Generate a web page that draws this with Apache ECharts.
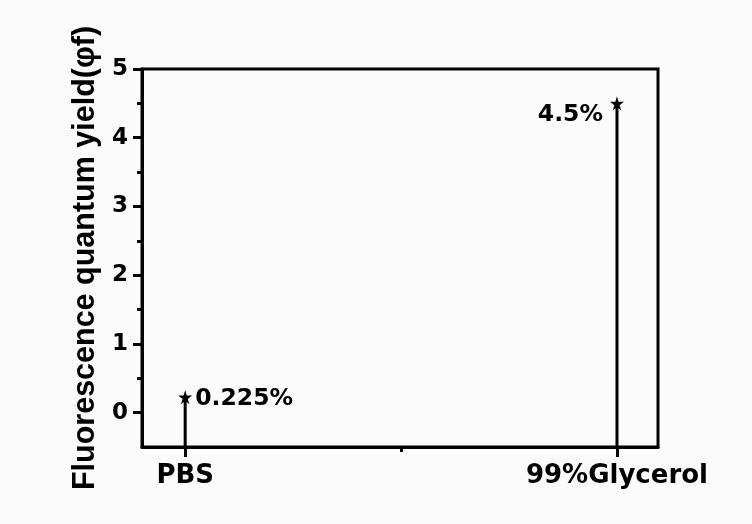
<!DOCTYPE html>
<html>
<head>
<meta charset="utf-8">
<script src="https://cdn.jsdelivr.net/npm/echarts@6/dist/echarts.min.js"></script>
<style>
  html, body { margin: 0; padding: 0; background: #fbfbfb; }
  #chart { width: 752px; height: 524px; }
</style>
</head>
<body>
<div id="chart"></div>
<script>
// Sample categories and their fluorescence quantum yields (%)
const categories = ['PBS', '99%Glycerol'];
const positions = [1, 2];
const yields = [0.225, 4.5];
const yTicks = [0, 1, 2, 3, 4, 5];
const yMinorTicks = [0.5, 1.5, 2.5, 3.5, 4.5];
const xMinorTicks = [1.5];

const WIDE = 'DejaVu Sans, Verdana, sans-serif';
const NARROW = 'Liberation Sans, Arial, sans-serif';
const star = 'path://M50,0 L61,35 L98,35 L68,57 L79,91 L50,70 L21,91 L32,57 L2,35 L39,35 Z';

const yMin = -0.5, yMax = 5;
const xMin = 0.9, xMax = 2.095;

// One drop line per sample, from the bottom of the axis up to its value
const series = categories.map((name, i) => ({
  type: 'line',
  name: name,
  data: [
    { value: [positions[i], yMin], symbol: 'none' },
    {
      value: [positions[i], yields[i]],
      symbol: star,
      symbolSize: 14,
      label: {
        show: true,
        position: i === 0 ? 'right' : 'left',
        distance: i === 0 ? 3 : 7,
        offset: i === 0 ? [0, 2] : [0, 12],
        formatter: p => p.value[1] + '%',
        color: '#000',
        fontFamily: WIDE,
        fontWeight: 'bold',
        fontSize: 23.5
      }
    }
  ],
  lineStyle: { color: '#000', width: 3 },
  itemStyle: { color: '#000' },
  animation: false,
  z: 5
}));

const chart = echarts.init(document.getElementById('chart'), null, { renderer: 'canvas' });
chart.setOption({
  backgroundColor: '#fbfbfb',
  animation: false,
  grid: {
    left: 142, right: 94, top: 69, bottom: 77,
    show: true, borderColor: '#000', borderWidth: 3, backgroundColor: 'transparent'
  },
  xAxis: [
    {
      type: 'value', min: xMin, max: xMax,
      axisLine: { show: true, onZero: false, lineStyle: { color: '#000', width: 3 } },
      axisTick: { show: true, customValues: positions, length: 10, lineStyle: { color: '#000', width: 3 } },
      axisLabel: {
        customValues: positions,
        formatter: v => categories[positions.indexOf(v)],
        margin: 16, color: '#000', fontFamily: WIDE, fontWeight: 'bold', fontSize: 26
      },
      splitLine: { show: false }
    },
    {
      type: 'value', min: xMin, max: xMax, position: 'bottom',
      axisLine: { show: false, onZero: false },
      axisTick: { show: true, customValues: xMinorTicks, length: 5, lineStyle: { color: '#000', width: 3 } },
      axisLabel: { show: false },
      splitLine: { show: false }
    }
  ],
  yAxis: [
    {
      type: 'value', min: yMin, max: yMax,
      name: 'Fluorescence quantum yield(φf)',
      nameLocation: 'middle', nameGap: 41,
      nameTextStyle: { color: '#000', fontFamily: NARROW, fontWeight: 'bold', fontSize: 30.5 },
      axisLine: { show: true, onZero: false, lineStyle: { color: '#000', width: 3 } },
      axisTick: { show: true, customValues: yTicks, length: 9, lineStyle: { color: '#000', width: 3 } },
      axisLabel: {
        customValues: yTicks,
        margin: 14, color: '#000', fontFamily: WIDE, fontWeight: 'bold', fontSize: 23
      },
      splitLine: { show: false }
    },
    {
      type: 'value', min: yMin, max: yMax, position: 'left',
      axisLine: { show: false, onZero: false },
      axisTick: { show: true, customValues: yMinorTicks, length: 5, lineStyle: { color: '#000', width: 3 } },
      axisLabel: { show: false },
      splitLine: { show: false }
    }
  ],
  series: series
});
</script>
</body>
</html>
